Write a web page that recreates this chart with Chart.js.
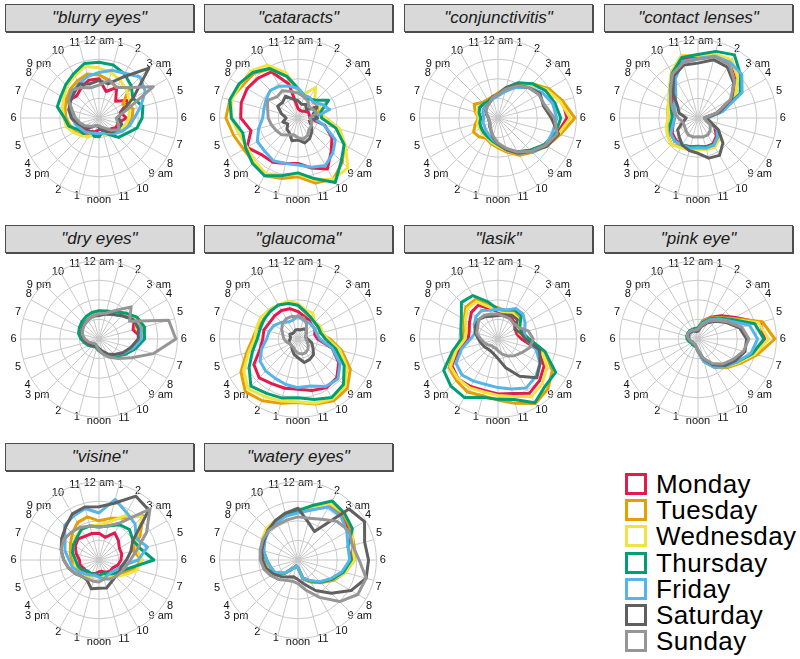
<!DOCTYPE html>
<html><head><meta charset="utf-8">
<script src="https://cdn.jsdelivr.net/npm/chart.js@4/dist/chart.umd.min.js"></script>
<style>
html,body{margin:0;padding:0;background:#fff;}
#root{position:relative;width:800px;height:659px;overflow:hidden;background:#fff;font-family:"Liberation Sans",Arial,sans-serif;}
.hdr{position:absolute;width:187px;height:26px;background:#d9d9d9;border:1px solid #4d4d4d;box-shadow:1px 1px 0 #4d4d4d;text-align:center;line-height:26px;font-style:italic;font-size:17px;color:#1a1a1a;}
canvas{position:absolute;}
.sq{position:absolute;width:16px;height:16px;border:3px solid #000;background:#fff;}
.lt{position:absolute;font-size:26px;line-height:26px;color:#000;letter-spacing:0.4px;white-space:nowrap;}
</style></head><body><div id="root"></div>
<script>
const hourLabels = ["12 am","1","2","3 am","4","5","6","7","8","9 am","10","11","noon","1","2","3 pm","4","5","6","7","8","9 pm","10","11"];
const days = ["Monday","Tuesday","Wednesday","Thursday","Friday","Saturday","Sunday"];
const dayColors = ["#E31A4E","#E69F00","#F0E442","#009E73","#56B4E9","#606060","#969696"];
const terms = ['"blurry eyes"','"cataracts"','"conjunctivitis"','"contact lenses"','"dry eyes"','"glaucoma"','"lasik"','"pink eye"','"visine"','"watery eyes"'];

// values per term: one array per day (Mon..Sun), 24 hourly values starting at 12 am
const blurryEyes = [
 [0.50,0.35,0.45,0.30,0.45,0.28,0.35,0.25,0.25,0.20,0.18,0.15,0.15,0.18,0.20,0.22,0.25,0.30,0.35,0.38,0.45,0.40,0.45,0.50],
 [0.55,0.50,0.45,0.55,0.35,0.45,0.42,0.38,0.30,0.25,0.20,0.20,0.20,0.20,0.25,0.30,0.35,0.38,0.42,0.45,0.48,0.52,0.55,0.58],
 [0.64,0.60,0.55,0.50,0.45,0.40,0.38,0.35,0.30,0.28,0.25,0.22,0.20,0.22,0.28,0.32,0.37,0.43,0.45,0.48,0.52,0.58,0.62,0.68],
 [0.71,0.70,0.65,0.58,0.50,0.58,0.55,0.50,0.40,0.35,0.24,0.18,0.24,0.24,0.20,0.28,0.30,0.40,0.44,0.55,0.56,0.60,0.65,0.72],
 [0.58,0.63,0.66,0.74,0.68,0.55,0.45,0.40,0.34,0.28,0.22,0.20,0.20,0.20,0.22,0.25,0.27,0.31,0.34,0.37,0.44,0.47,0.51,0.55],
 [0.48,0.45,0.60,0.90,0.50,0.30,0.25,0.30,0.28,0.25,0.20,0.15,0.12,0.10,0.12,0.18,0.22,0.28,0.35,0.40,0.42,0.45,0.50,0.45],
 [0.42,0.50,0.45,0.55,0.80,0.35,0.22,0.25,0.30,0.22,0.15,0.12,0.10,0.10,0.12,0.15,0.20,0.25,0.30,0.35,0.45,0.50,0.45,0.40]
];
const cataracts = [
 [0.12,0.10,0.10,0.12,0.15,0.15,0.15,0.35,0.50,0.60,0.75,0.66,0.58,0.60,0.65,0.66,0.75,0.62,0.73,0.75,0.75,0.72,0.68,0.45],
 [0.35,0.30,0.30,0.28,0.30,0.28,0.35,0.55,0.68,0.80,0.90,0.86,0.75,0.80,0.85,0.80,0.80,0.85,0.92,0.90,0.82,0.80,0.72,0.55],
 [0.35,0.32,0.45,0.30,0.32,0.30,0.35,0.55,0.70,0.90,0.90,0.82,0.72,0.75,0.82,0.78,0.75,0.78,0.85,0.88,0.85,0.85,0.78,0.60],
 [0.38,0.30,0.28,0.32,0.45,0.30,0.30,0.50,0.68,0.78,0.95,0.80,0.70,0.76,0.85,0.82,0.77,0.73,0.85,0.90,0.87,0.82,0.73,0.55],
 [0.38,0.30,0.30,0.28,0.35,0.42,0.20,0.34,0.55,0.63,0.70,0.65,0.60,0.60,0.63,0.60,0.60,0.52,0.45,0.45,0.47,0.50,0.47,0.42],
 [0.22,0.18,0.20,0.15,0.28,0.20,0.25,0.15,0.20,0.25,0.30,0.33,0.28,0.30,0.22,0.20,0.15,0.20,0.15,0.22,0.30,0.28,0.32,0.25],
 [0.32,0.28,0.25,0.20,0.22,0.25,0.15,0.18,0.20,0.20,0.25,0.28,0.25,0.22,0.25,0.30,0.32,0.35,0.38,0.40,0.45,0.38,0.40,0.35]
];
const conjunctivitis = [
 [0.30,0.38,0.50,0.60,0.72,0.85,0.88,0.78,0.70,0.58,0.50,0.42,0.35,0.30,0.27,0.26,0.25,0.25,0.22,0.26,0.27,0.25,0.25,0.27],
 [0.32,0.40,0.50,0.62,0.75,0.85,0.98,0.82,0.72,0.62,0.55,0.45,0.38,0.34,0.30,0.34,0.36,0.30,0.25,0.30,0.35,0.28,0.27,0.28],
 [0.30,0.38,0.50,0.60,0.72,0.82,0.92,0.80,0.70,0.60,0.52,0.43,0.36,0.32,0.28,0.28,0.27,0.27,0.24,0.28,0.28,0.26,0.25,0.27],
 [0.30,0.40,0.52,0.62,0.70,0.75,0.80,0.76,0.68,0.58,0.50,0.42,0.34,0.30,0.27,0.26,0.25,0.24,0.22,0.25,0.27,0.26,0.25,0.27],
 [0.28,0.35,0.45,0.55,0.65,0.72,0.75,0.72,0.70,0.62,0.52,0.42,0.33,0.28,0.24,0.22,0.20,0.20,0.18,0.20,0.22,0.22,0.22,0.25],
 [0.30,0.40,0.48,0.55,0.62,0.60,0.68,0.80,0.72,0.60,0.52,0.42,0.33,0.25,0.18,0.15,0.12,0.12,0.12,0.15,0.18,0.20,0.22,0.28],
 [0.30,0.38,0.47,0.55,0.60,0.62,0.72,0.78,0.70,0.60,0.50,0.40,0.32,0.24,0.18,0.14,0.12,0.12,0.12,0.14,0.18,0.20,0.22,0.27]
];
const contactLenses = [
 [0.78,0.82,0.85,0.70,0.52,0.25,0.08,0.14,0.25,0.33,0.38,0.38,0.37,0.38,0.40,0.40,0.38,0.33,0.30,0.32,0.36,0.45,0.62,0.78],
 [0.80,0.84,0.85,0.72,0.55,0.28,0.10,0.16,0.28,0.38,0.42,0.40,0.38,0.40,0.42,0.48,0.44,0.41,0.38,0.40,0.43,0.51,0.67,0.82],
 [0.80,0.84,0.86,0.72,0.55,0.28,0.10,0.16,0.29,0.38,0.43,0.42,0.40,0.42,0.44,0.48,0.45,0.42,0.38,0.40,0.43,0.52,0.68,0.82],
 [0.81,0.88,0.93,0.77,0.62,0.30,0.10,0.15,0.28,0.35,0.40,0.38,0.36,0.38,0.40,0.42,0.40,0.37,0.33,0.35,0.40,0.50,0.66,0.80],
 [0.76,0.82,0.82,0.79,0.65,0.33,0.12,0.15,0.28,0.35,0.40,0.40,0.38,0.40,0.40,0.42,0.40,0.33,0.30,0.30,0.35,0.40,0.58,0.75],
 [0.70,0.77,0.75,0.64,0.50,0.28,0.10,0.15,0.30,0.45,0.55,0.53,0.45,0.43,0.40,0.34,0.30,0.20,0.15,0.25,0.30,0.45,0.62,0.70],
 [0.75,0.81,0.79,0.66,0.48,0.25,0.08,0.10,0.18,0.22,0.25,0.25,0.24,0.25,0.25,0.22,0.20,0.20,0.25,0.32,0.40,0.50,0.65,0.73]
];
const dryEyes = [
 [0.34,0.35,0.38,0.45,0.52,0.45,0.56,0.47,0.38,0.30,0.24,0.18,0.15,0.12,0.10,0.12,0.15,0.18,0.21,0.24,0.26,0.28,0.30,0.32],
 [0.35,0.36,0.40,0.46,0.55,0.58,0.58,0.48,0.38,0.30,0.24,0.18,0.15,0.12,0.10,0.12,0.15,0.18,0.22,0.25,0.27,0.29,0.31,0.33],
 [0.36,0.36,0.39,0.45,0.52,0.50,0.56,0.47,0.37,0.29,0.23,0.17,0.14,0.12,0.10,0.12,0.15,0.18,0.22,0.25,0.28,0.30,0.32,0.34],
 [0.36,0.37,0.40,0.47,0.56,0.60,0.58,0.48,0.39,0.31,0.25,0.19,0.15,0.12,0.11,0.13,0.16,0.19,0.23,0.27,0.29,0.31,0.33,0.35],
 [0.32,0.33,0.36,0.42,0.50,0.55,0.54,0.45,0.36,0.29,0.23,0.17,0.13,0.10,0.09,0.11,0.14,0.17,0.20,0.23,0.25,0.27,0.29,0.30],
 [0.30,0.33,0.36,0.42,0.50,0.52,0.50,0.42,0.35,0.28,0.22,0.16,0.12,0.10,0.10,0.12,0.14,0.17,0.20,0.23,0.25,0.27,0.28,0.30],
 [0.32,0.34,0.42,0.58,0.45,0.92,0.98,0.72,0.48,0.35,0.27,0.20,0.14,0.10,0.08,0.08,0.10,0.14,0.18,0.22,0.24,0.26,0.28,0.30]
];
const glaucoma = [
 [0.35,0.30,0.28,0.25,0.25,0.22,0.25,0.45,0.60,0.70,0.72,0.68,0.64,0.65,0.66,0.70,0.65,0.50,0.45,0.45,0.42,0.42,0.42,0.40],
 [0.43,0.35,0.32,0.30,0.30,0.29,0.41,0.58,0.77,0.89,0.91,0.86,0.81,0.85,0.91,0.95,0.84,0.68,0.58,0.54,0.50,0.52,0.50,0.48],
 [0.45,0.38,0.38,0.30,0.33,0.32,0.38,0.55,0.72,0.85,0.88,0.85,0.80,0.82,0.85,0.90,0.80,0.65,0.55,0.55,0.55,0.52,0.50,0.50],
 [0.43,0.36,0.32,0.30,0.30,0.30,0.35,0.50,0.68,0.82,0.86,0.80,0.75,0.78,0.80,0.85,0.72,0.60,0.52,0.50,0.50,0.50,0.50,0.47],
 [0.30,0.25,0.25,0.25,0.25,0.25,0.28,0.45,0.62,0.72,0.70,0.62,0.62,0.60,0.58,0.58,0.56,0.48,0.40,0.38,0.35,0.30,0.25,0.25],
 [0.12,0.12,0.15,0.15,0.12,0.10,0.12,0.18,0.22,0.28,0.30,0.31,0.24,0.20,0.15,0.12,0.12,0.12,0.10,0.10,0.12,0.10,0.10,0.12],
 [0.28,0.28,0.22,0.15,0.12,0.10,0.10,0.12,0.15,0.18,0.20,0.20,0.18,0.15,0.12,0.12,0.12,0.15,0.18,0.20,0.24,0.28,0.30,0.30]
];
const lasik = [
 [0.35,0.32,0.32,0.30,0.25,0.25,0.30,0.52,0.68,0.75,0.80,0.72,0.70,0.68,0.70,0.72,0.68,0.52,0.38,0.38,0.42,0.48,0.50,0.40],
 [0.40,0.37,0.40,0.38,0.30,0.30,0.38,0.62,0.80,0.90,0.95,0.85,0.78,0.75,0.78,0.75,0.72,0.58,0.45,0.45,0.50,0.58,0.58,0.45],
 [0.37,0.35,0.38,0.36,0.28,0.28,0.36,0.58,0.72,0.80,0.85,0.76,0.72,0.70,0.72,0.72,0.70,0.55,0.42,0.42,0.48,0.55,0.55,0.42],
 [0.38,0.38,0.43,0.42,0.32,0.32,0.40,0.62,0.85,0.85,0.94,0.80,0.77,0.77,0.86,0.85,0.80,0.60,0.47,0.49,0.54,0.66,0.64,0.49],
 [0.38,0.38,0.45,0.45,0.40,0.35,0.35,0.50,0.62,0.68,0.72,0.66,0.62,0.60,0.62,0.65,0.62,0.48,0.35,0.30,0.35,0.40,0.42,0.38],
 [0.30,0.32,0.35,0.35,0.25,0.30,0.35,0.55,0.62,0.70,0.55,0.38,0.25,0.20,0.18,0.18,0.20,0.22,0.25,0.30,0.33,0.35,0.33,0.30],
 [0.32,0.30,0.30,0.28,0.30,0.40,0.45,0.42,0.35,0.30,0.25,0.20,0.15,0.12,0.12,0.12,0.15,0.18,0.22,0.28,0.30,0.35,0.35,0.33]
];
const pinkEye = [
 [0.14,0.24,0.32,0.42,0.55,0.82,0.85,0.75,0.60,0.50,0.40,0.30,0.16,0.10,0.08,0.08,0.08,0.10,0.12,0.12,0.13,0.13,0.13,0.13],
 [0.14,0.24,0.31,0.39,0.52,0.85,0.98,0.78,0.62,0.52,0.42,0.30,0.16,0.10,0.08,0.08,0.08,0.10,0.12,0.13,0.14,0.14,0.14,0.14],
 [0.13,0.22,0.30,0.38,0.50,0.80,0.90,0.75,0.60,0.50,0.40,0.28,0.15,0.10,0.08,0.08,0.08,0.10,0.12,0.12,0.13,0.13,0.13,0.13],
 [0.14,0.22,0.30,0.38,0.50,0.75,0.84,0.72,0.58,0.48,0.40,0.28,0.15,0.10,0.10,0.10,0.10,0.12,0.14,0.15,0.15,0.15,0.14,0.14],
 [0.12,0.20,0.28,0.36,0.46,0.68,0.76,0.70,0.58,0.50,0.42,0.30,0.16,0.10,0.08,0.08,0.08,0.10,0.11,0.12,0.12,0.12,0.12,0.12],
 [0.10,0.16,0.24,0.32,0.42,0.55,0.62,0.62,0.55,0.48,0.38,0.26,0.14,0.10,0.08,0.08,0.08,0.10,0.12,0.13,0.14,0.13,0.12,0.10],
 [0.12,0.18,0.26,0.34,0.44,0.58,0.65,0.60,0.52,0.45,0.36,0.25,0.14,0.10,0.08,0.08,0.08,0.10,0.12,0.14,0.15,0.14,0.13,0.12]
];
const visine = [
 [0.34,0.30,0.40,0.35,0.30,0.30,0.28,0.25,0.20,0.20,0.18,0.15,0.15,0.18,0.20,0.22,0.22,0.25,0.25,0.30,0.35,0.38,0.35,0.35],
 [0.50,0.55,0.62,0.80,0.60,0.45,0.55,0.45,0.35,0.30,0.25,0.22,0.20,0.20,0.22,0.25,0.28,0.30,0.35,0.38,0.42,0.48,0.55,0.57],
 [0.45,0.50,0.65,0.78,0.55,0.50,0.55,0.50,0.38,0.30,0.25,0.20,0.20,0.22,0.25,0.30,0.32,0.32,0.30,0.35,0.38,0.42,0.45,0.45],
 [0.42,0.45,0.52,0.55,0.50,0.55,0.70,0.40,0.30,0.25,0.20,0.18,0.20,0.18,0.20,0.20,0.25,0.28,0.30,0.35,0.38,0.40,0.45,0.45],
 [0.60,0.80,0.70,0.65,0.55,0.64,0.50,0.30,0.25,0.22,0.22,0.25,0.22,0.20,0.22,0.25,0.30,0.35,0.38,0.45,0.50,0.62,0.65,0.68],
 [0.68,0.75,0.94,0.90,0.50,0.42,0.35,0.30,0.30,0.30,0.32,0.37,0.36,0.38,0.30,0.30,0.35,0.40,0.45,0.50,0.55,0.60,0.68,0.70],
 [0.42,0.45,0.55,0.92,0.70,0.50,0.40,0.35,0.32,0.30,0.28,0.25,0.28,0.28,0.28,0.30,0.35,0.40,0.45,0.50,0.52,0.50,0.48,0.45]
];
const wateryEyes = [
 [0.62,0.68,0.80,0.80,0.76,0.72,0.70,0.60,0.50,0.40,0.32,0.25,0.10,0.08,0.12,0.24,0.34,0.37,0.40,0.46,0.50,0.54,0.56,0.60],
 [0.64,0.70,0.82,0.82,0.78,0.74,0.72,0.62,0.52,0.41,0.32,0.25,0.10,0.08,0.12,0.25,0.36,0.38,0.41,0.47,0.52,0.56,0.58,0.61],
 [0.64,0.70,0.83,0.84,0.80,0.72,0.72,0.62,0.50,0.40,0.31,0.24,0.10,0.08,0.12,0.24,0.35,0.37,0.40,0.47,0.53,0.57,0.58,0.60],
 [0.63,0.72,0.87,0.84,0.80,0.66,0.68,0.60,0.50,0.40,0.31,0.24,0.10,0.08,0.12,0.24,0.34,0.36,0.40,0.46,0.50,0.54,0.56,0.60],
 [0.60,0.66,0.78,0.78,0.72,0.66,0.66,0.58,0.48,0.39,0.30,0.24,0.10,0.08,0.12,0.23,0.33,0.36,0.40,0.45,0.49,0.53,0.55,0.58],
 [0.66,0.50,0.42,0.92,0.98,0.88,0.90,0.90,0.78,0.60,0.45,0.32,0.25,0.22,0.25,0.30,0.36,0.42,0.45,0.48,0.50,0.54,0.58,0.62],
 [0.55,0.55,0.60,0.70,0.75,0.72,0.78,0.90,0.88,0.75,0.55,0.40,0.30,0.28,0.30,0.35,0.40,0.45,0.48,0.50,0.52,0.53,0.52,0.53]
];
const termData = [blurryEyes, cataracts, conjunctivitis, contactLenses, dryEyes, glaucoma, lasik, pinkEye, visine, wateryEyes];

const root = document.getElementById('root');
const centersX = [99, 298, 498, 698];
const centersY = [118, 339, 560];
const headerTops = [4, 225, 443];
const labelDist = [77,78,79,80,83,85,84.5,84.5,84,83,83,82,82,81,82,83,84.5,85,85,85,83,80.5,78.3,78.4];
const LFONT = 11, TARGET_R = 78, S = 178;
const mctx = document.createElement('canvas').getContext('2d');
mctx.font = LFONT + 'px "Liberation Sans", Arial, sans-serif';

terms.forEach((t, i) => {
  const col = i % 4, row = Math.floor(i / 4);
  const cx = centersX[col], cy = centersY[row];
  const h = document.createElement('div');
  h.className = 'hdr';
  h.style.left = (cx - 94) + 'px';
  h.style.top = headerTops[row] + 'px';
  h.textContent = t;
  root.appendChild(h);
  const c = document.createElement('canvas');
  c.width = S; c.height = S;
  c.style.left = (cx - S / 2) + 'px';
  c.style.top = (cy - S / 2 + 3) + 'px';
  root.appendChild(c);
  new Chart(c, {
    type: 'radar',
    data: {
      labels: hourLabels,
      datasets: days.map((d, k) => ({
        label: d,
        data: termData[i][k],
        borderColor: dayColors[k],
        backgroundColor: 'transparent',
        borderWidth: 3,
        pointRadius: 0,
        pointHoverRadius: 0,
        fill: false,
        tension: 0,
        borderJoinStyle: 'round',
        order: 6 - k
      }))
    },
    options: {
      responsive: false,
      animation: false,
      devicePixelRatio: 1,
      plugins: { legend: { display: false }, tooltip: { enabled: false } },
      layout: { padding: 0 },
      scales: {
        r: {
          min: 0, max: 1,
          ticks: { display: false, stepSize: 0.25 },
          grid: { circular: true, color: '#c8c8c8', lineWidth: 1 },
          angleLines: { color: '#c8c8c8', lineWidth: 1 },
          pointLabels: {
            color: '#111111',
            font: { size: LFONT, family: '"Liberation Sans", Arial, sans-serif' },
            padding: (ctx) => {
              const idx = ctx.index;
              const a = idx * Math.PI / 12;
              const w = mctx.measureText(hourLabels[idx]).width;
              return labelDist[idx] - TARGET_R - Math.abs(Math.sin(a)) * w / 2 - Math.abs(Math.cos(a)) * LFONT * 1.2 / 2;
            }
          }
        }
      }
    }
  });
});

days.forEach((d, k) => {
  const top = 473 + k * 26.2;
  const sq = document.createElement('div');
  sq.className = 'sq';
  sq.style.left = '625px';
  sq.style.top = top + 'px';
  sq.style.borderColor = dayColors[k];
  root.appendChild(sq);
  const tx = document.createElement('div');
  tx.className = 'lt';
  tx.style.left = '656px';
  tx.style.top = (top - 2) + 'px';
  tx.textContent = d;
  root.appendChild(tx);
});
</script>
</body></html>
